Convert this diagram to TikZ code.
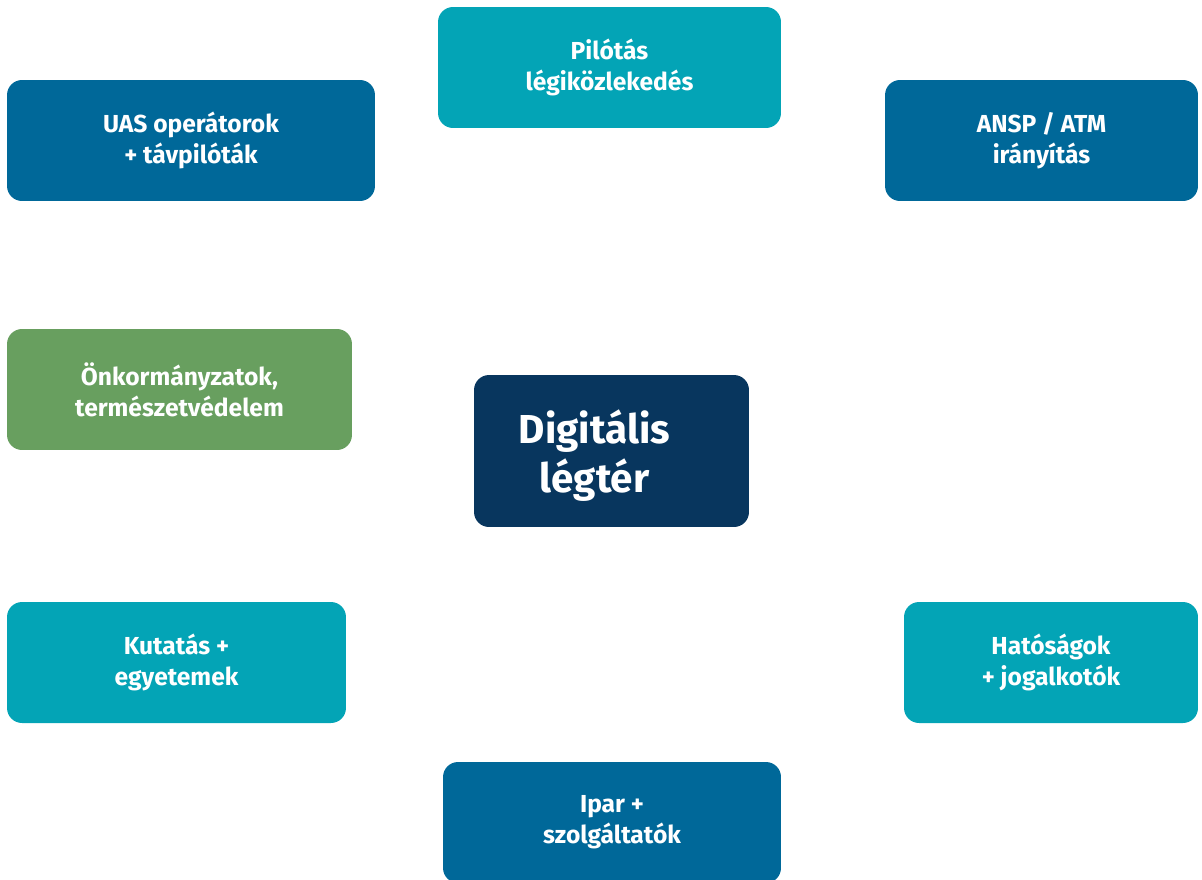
\documentclass[tikz,border=0pt]{standalone}
\usepackage{fontspec}
\setmainfont{Fira Sans}
\usepackage{tikz}
\usetikzlibrary{positioning}
\definecolor{tealbox}{RGB}{3,164,182}
\definecolor{bluebox}{RGB}{0,104,153}
\definecolor{greenbox}{RGB}{104,159,95}
\definecolor{navybox}{RGB}{8,54,94}
\tikzset{
    party/.style = {
        shape=rectangle,
        rounded corners=0.3cm,
        minimum height=2.42cm,
        text=white,
        align=center,
        font=\fontsize{14}{17.6}\selectfont\bfseries
    },
    hub/.style = {
        shape=rectangle,
        rounded corners=0.3cm,
        fill=navybox,
        minimum width=5.5cm,
        minimum height=3.04cm
    },
    hubtext/.style = {
        text=white,
        align=center,
        font=\fontsize{23}{27.8}\selectfont\bfseries
    },
}
\begin{document}
\begin{tikzpicture}[x=0.02cm, y=-0.02cm]
            \useasboundingbox (0,0) rectangle (1202,879);
            \clip (0,0) rectangle (1202,879);
            \node[party, fill=tealbox, minimum width=6.86cm] (pil) at (609.5,67.5) {Pilótás\\légiközlekedés};
            \node[party, fill=bluebox, minimum width=7.36cm] (uas) at (191,140.5) {UAS operátorok\\+ távpilóták};
            \node[party, fill=bluebox, minimum width=6.26cm] (ansp) at (1041.5,140.5) {ANSP / ATM\\irányítás};
            \node[party, fill=greenbox, minimum width=6.9cm] (onk) at (179.5,389.5) {Önkormányzatok,\\természetvédelem};
            \node[hub] (dl) at (611.5,451) {};
            \node[hubtext] (dlt) at ([xshift=-0.34cm, yshift=-0.1cm]dl.center) {Digitális\\légtér};
            \node[party, fill=tealbox, minimum width=6.78cm] (kut) at (176.5,662.5) {Kutatás +\\egyetemek};
            \node[party, fill=tealbox, minimum width=5.88cm] (hat) at (1051,662.5) {Hatóságok\\+ jogalkotók};
            \node[party, fill=bluebox, minimum width=6.76cm] (ipar) at (612,822.5) {Ipar +\\szolgáltatók};
        \end{tikzpicture}
\end{document}
